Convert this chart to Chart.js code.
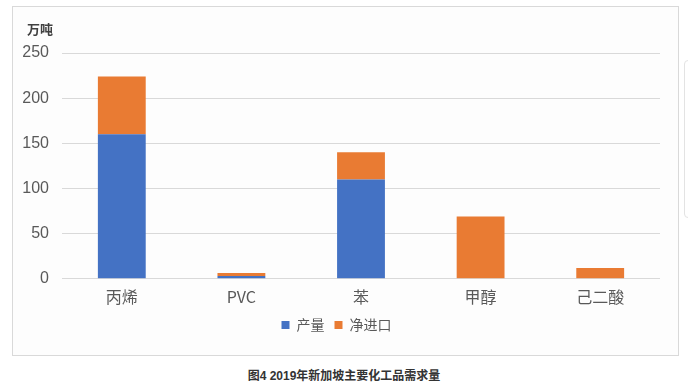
<!DOCTYPE html>
<html>
<head>
<meta charset="utf-8">
<script src="https://cdn.jsdelivr.net/npm/chart.js@4/dist/chart.umd.min.js"></script>
<style>
  body{margin:0;background:#fff;width:688px;height:390px;position:relative;overflow:hidden;font-family:"Liberation Sans","Noto Sans CJK SC",sans-serif;}
  #frame{position:absolute;left:12px;top:6px;width:665px;height:348px;border:1px solid #d9d9d9;background:#fdfdfd;}
  #frame canvas{position:absolute;left:0;top:0;}
  #unit{position:absolute;left:14px;top:12px;font-size:13px;font-weight:bold;color:#404040;font-family:"Noto Sans CJK SC",sans-serif;}
  #side{position:absolute;left:684px;top:60px;width:20px;height:156px;border:1px solid #e3e3e3;border-radius:4px;}
  #caption{position:absolute;left:0;width:688px;top:366px;text-align:center;font-size:12px;font-weight:bold;color:#333;font-family:"Liberation Sans","Noto Sans CJK SC",sans-serif;}
</style>
</head>
<body>
<div id="frame">
  <canvas id="chart" width="665" height="348"></canvas>
  <div id="unit">万吨</div>
</div>
<div id="side"></div>
<div id="caption">图4 2019年新加坡主要化工品需求量</div>
<script>
const categories=['丙烯','PVC','苯','甲醇','己二酸'];
const output=[160,3,110,0,0];
const netImport=[64,3.5,30,69,12];
const yTicks=[0,50,100,150,200,250];

const tickFont={family:'"Liberation Sans","Noto Sans CJK SC",sans-serif',size:16};

new Chart(document.getElementById('chart'),{
  type:'bar',
  data:{
    labels:categories,
    datasets:[
      {label:'产量',data:output,backgroundColor:'#4472C4',barPercentage:0.4,categoryPercentage:1},
      {label:'净进口',data:netImport,backgroundColor:'#E97B33',barPercentage:0.4,categoryPercentage:1}
    ]
  },
  options:{
    responsive:false,
    animation:false,
    layout:{padding:{top:46,right:18,bottom:13,left:0}},
    plugins:{
      tooltip:{enabled:false},
      legend:{
        position:'bottom',
        labels:{
          boxWidth:8,boxHeight:8,padding:10,
          color:'#595959',
          font:{family:'"Noto Sans CJK SC",sans-serif',size:14}
        }
      }
    },
    scales:{
      x:{
        stacked:true,
        grid:{display:false},
        border:{display:false},
        ticks:{color:'#595959',font:{family:'"Noto Sans CJK SC",sans-serif',size:16},padding:1}
      },
      y:{
        stacked:true,
        min:0,max:250,
        afterFit:function(scale){scale.width=49;},
        afterBuildTicks:function(scale){scale.ticks=yTicks.map(v=>({value:v}));},
        grid:{color:'#d9d9d9',drawTicks:false},
        border:{display:false},
        ticks:{color:'#595959',font:tickFont,padding:13}
      }
    }
  }
});
</script>
</body>
</html>
